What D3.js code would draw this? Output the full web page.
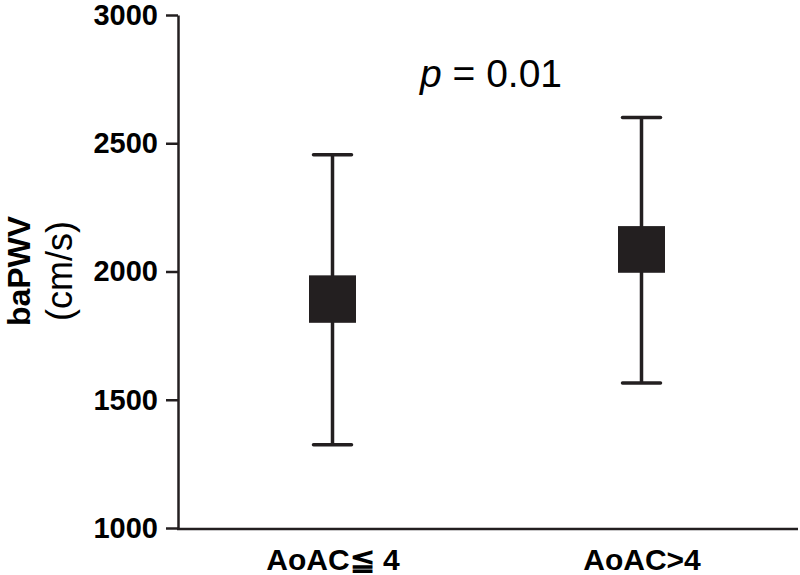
<!DOCTYPE html>
<html>
<head>
<meta charset="utf-8">
<script src="https://cdn.jsdelivr.net/npm/d3@7"></script>
<style>
  body { margin: 0; background: #fff; }
  svg { font-family: "Liberation Sans", Arial, sans-serif; }
</style>
</head>
<body>
<div id="chart"></div>
<script>
const categories = ["AoAC≦ 4", "AoAC>4"];
const whiskerLow = [1325, 1565];
const boxLow = [1800, 1995];
const boxHigh = [1985, 2177];
const whiskerHigh = [2455, 2600];
const yTicks = [1000, 1500, 2000, 2500, 3000];

const rows = categories.map((c, i) => ({
  cat: c, wlo: whiskerLow[i], lo: boxLow[i], hi: boxHigh[i], whi: whiskerHigh[i]
}));

const ink = '#231f20';
const svg = d3.select('#chart').append('svg')
  .attr('width', 800)
  .attr('height', 575);

const x = d3.scalePoint().domain(categories).range([178, 796]).padding(0.5);
const y = d3.scaleLinear().domain([1000, 3000]).range([528, 15]);

// y axis
const yAxis = svg.append('g')
  .attr('transform', 'translate(178,0)')
  .call(d3.axisLeft(y).tickValues(yTicks).tickSize(12).tickSizeOuter(0).tickPadding(8).tickFormat(d3.format('d')));
yAxis.select('.domain').attr('stroke', ink).attr('stroke-width', 2.5);
yAxis.selectAll('.tick line').attr('stroke', ink).attr('stroke-width', 2.5);
yAxis.selectAll('.tick text')
  .attr('fill', '#000')
  .attr('font-size', 29)
  .attr('font-weight', 'bold')
  .attr('font-family', '"Liberation Sans", Arial, sans-serif');

// x axis
const xAxis = svg.append('g')
  .attr('transform', 'translate(0,529)')
  .call(d3.axisBottom(x).tickSize(0).tickSizeOuter(0));
xAxis.select('.domain').remove();
xAxis.append('line')
  .attr('x1', 177).attr('x2', 798)
  .attr('stroke', ink).attr('stroke-width', 2.5);
xAxis.selectAll('.tick text')
  .attr('y', 41).attr('dy', 0)
  .attr('fill', '#000')
  .attr('font-size', 30)
  .attr('font-weight', 'bold')
  .attr('font-family', '"Liberation Sans", Arial, sans-serif');

// y title
const title = svg.append('g').attr('transform', 'translate(0,271) rotate(-90)');
title.append('text')
  .attr('x', 0).attr('y', 30)
  .attr('text-anchor', 'middle')
  .attr('font-size', 32)
  .attr('font-weight', 'bold')
  .text('baPWV');
title.append('text')
  .attr('x', 0).attr('y', 72)
  .attr('text-anchor', 'middle')
  .attr('font-size', 36)
  .text('(cm/s)');

// whiskers
const g = svg.append('g');
g.selectAll('.whisker')
  .data(rows)
  .join('line')
  .attr('class', 'whisker')
  .attr('x1', d => x(d.cat)).attr('x2', d => x(d.cat))
  .attr('y1', d => y(d.wlo)).attr('y2', d => y(d.whi))
  .attr('stroke', ink).attr('stroke-width', 3.5);

const caps = rows.flatMap(d => [{ cat: d.cat, v: d.wlo }, { cat: d.cat, v: d.whi }]);
g.selectAll('.cap')
  .data(caps)
  .join('line')
  .attr('class', 'cap')
  .attr('x1', d => x(d.cat) - 19).attr('x2', d => x(d.cat) + 19)
  .attr('y1', d => y(d.v)).attr('y2', d => y(d.v))
  .attr('stroke', ink).attr('stroke-width', 3.5)
  .attr('stroke-linecap', 'round');

// boxes
g.selectAll('.box')
  .data(rows)
  .join('rect')
  .attr('class', 'box')
  .attr('x', d => x(d.cat) - 23.5)
  .attr('width', 47)
  .attr('y', d => y(d.hi))
  .attr('height', d => y(d.lo) - y(d.hi))
  .attr('fill', ink);

// p value
const p = svg.append('text')
  .attr('x', 420).attr('y', 87)
  .attr('font-size', 39)
  .attr('fill', '#000');
p.append('tspan').attr('font-style', 'italic').text('p');
p.append('tspan').text(' = 0.01');
</script>
</body>
</html>
